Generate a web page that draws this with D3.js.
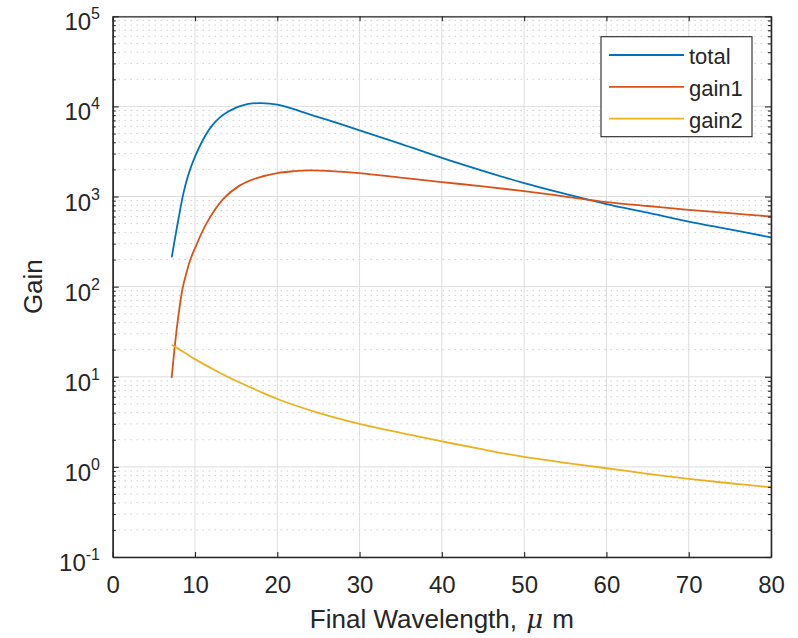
<!DOCTYPE html>
<html>
<head>
<meta charset="utf-8">
<script src="https://cdn.jsdelivr.net/npm/d3@7"></script>
<style>
  body { margin: 0; background: #fff; }
  svg { font-family: "Liberation Sans", Arial, sans-serif; }
</style>
</head>
<body>
<script>
// values
const seriesNames = ['total', 'gain1', 'gain2'];

const totalX = [7.17, 7.5, 8, 8.6, 9.2, 10, 11, 12, 13, 14, 15, 16, 17, 18, 20, 22, 24, 26, 28, 30, 35, 40, 45, 50, 55, 60, 65, 70, 75, 80];
const totalY = [211, 316, 570, 1090, 1750, 2775, 4300, 6000, 7500, 8710, 9700, 10400, 10790, 10890, 10470, 9330, 8130, 7130, 6240, 5430, 3850, 2690, 1930, 1410, 1070, 824, 661, 528, 432, 352];

const gain1X = [7.165, 7.57, 7.97, 8.5, 8.99, 9.39, 9.92, 11.42, 13.44, 15.46, 17.5, 20, 22, 24, 27, 30, 35, 40, 45, 50, 55, 60, 65, 70, 75, 80];
const gain1Y = [9.7, 22.9, 46.4, 96.5, 145, 194, 257, 507, 940, 1330, 1600, 1820, 1910, 1950, 1905, 1817, 1622, 1445, 1297, 1148, 1000, 867, 785, 713, 653, 600];

const gain2X = [7.17, 8, 9, 10, 12, 14, 17, 20, 25, 30, 35, 40, 45, 50, 55, 60, 65, 70, 75, 80];
const gain2Y = [22.7, 20.4, 17.9, 15.7, 12.4, 9.95, 7.45, 5.67, 3.98, 3.0, 2.38, 1.92, 1.56, 1.29, 1.11, 0.966, 0.838, 0.736, 0.658, 0.594];

const xTicks = [0, 10, 20, 30, 40, 50, 60, 70, 80];
const yExponents = [-1, 0, 1, 2, 3, 4, 5];

let width = 798,
    height = 638;

let margin = { top: 16.3, bottom: 81, left: 112.7, right: 27 };

let colors = ['#0072BD', '#D95319', '#EDB120'];

let svg = d3.select('body')
            .append('svg')
            .attr('width', width)
            .attr('height', height)
            .style('background', '#fff');

let xScale = d3.scaleLinear()
               .domain([0, 80])
               .range([margin.left, width - margin.right]);

let yScale = d3.scaleLog()
               .domain([0.1, 1e5])
               .range([height - margin.bottom, margin.top]);

let x0 = xScale.range()[0], x1 = xScale.range()[1];
let y0 = yScale.range()[0], y1 = yScale.range()[1];

// minor y values 2..9 of each decade
let minorY = [];
yExponents.slice(0, -1).forEach(e => {
  for (let k = 2; k <= 9; k++) minorY.push(k * Math.pow(10, e));
});
let majorY = yExponents.map(e => Math.pow(10, e));

// minor grid (dotted)
svg.append('g')
   .selectAll('line')
   .data(minorY)
   .enter()
   .append('line')
   .attr('x1', x0).attr('x2', x1)
   .attr('y1', d => yScale(d)).attr('y2', d => yScale(d))
   .attr('stroke', '#b8b8b8')
   .attr('stroke-width', 1)
   .attr('stroke-dasharray', '1,5');

// major grid
svg.append('g')
   .selectAll('line')
   .data(majorY)
   .enter()
   .append('line')
   .attr('x1', x0).attr('x2', x1)
   .attr('y1', d => yScale(d)).attr('y2', d => yScale(d))
   .attr('stroke', '#dedede')
   .attr('stroke-width', 1);

svg.append('g')
   .selectAll('line')
   .data(xTicks)
   .enter()
   .append('line')
   .attr('x1', d => xScale(d)).attr('x2', d => xScale(d))
   .attr('y1', y0).attr('y2', y1)
   .attr('stroke', '#dedede')
   .attr('stroke-width', 1);

// the lines
svg.append('clipPath')
   .attr('id', 'clip')
   .append('rect')
   .attr('x', x0).attr('y', y1)
   .attr('width', x1 - x0).attr('height', y0 - y1);

let line = d3.line()
             .x(d => xScale(d[0]))
             .y(d => yScale(d[1]))
             .curve(d3.curveCatmullRom.alpha(0.5));

let series = [
  d3.zip(totalX, totalY),
  d3.zip(gain1X, gain1Y),
  d3.zip(gain2X, gain2Y)
];

svg.append('g')
   .attr('clip-path', 'url(#clip)')
   .selectAll('path')
   .data(series)
   .enter()
   .append('path')
   .attr('fill', 'none')
   .attr('stroke', (d, i) => colors[i])
   .attr('stroke-width', 1.8)
   .attr('d', line);

// axes (ticks pointing inward, box on)
const axisColor = '#262626';

function styleAxis(g) {
  g.select('.domain').attr('stroke', axisColor).attr('stroke-width', 1.3);
  g.selectAll('.tick line').attr('stroke', axisColor).attr('stroke-width', 1.1);
}

let xAxis = svg.append('g')
   .attr('transform', `translate(0, ${y0})`)
   .call(d3.axisBottom(xScale).tickValues(xTicks).tickSizeInner(-5).tickSizeOuter(0))
   .call(styleAxis);
xAxis.selectAll('text')
     .attr('y', 36)
     .attr('dy', null)
     .attr('fill', axisColor)
     .style('font-size', '24px')
     .style('font-family', '"Liberation Sans", Arial, sans-serif');

svg.append('g')
   .attr('transform', `translate(0, ${y1})`)
   .call(d3.axisTop(xScale).tickValues(xTicks).tickSizeInner(-5).tickSizeOuter(0).tickFormat(''))
   .call(styleAxis);

svg.append('g')
   .attr('transform', `translate(${x0}, 0)`)
   .call(d3.axisLeft(yScale).tickValues(majorY).tickSizeInner(-6).tickSizeOuter(0).tickFormat(''))
   .call(styleAxis);

svg.append('g')
   .attr('transform', `translate(${x0}, 0)`)
   .call(d3.axisLeft(yScale).tickValues(minorY).tickSizeInner(-3).tickSizeOuter(0).tickFormat(''))
   .call(styleAxis);

svg.append('g')
   .attr('transform', `translate(${x1}, 0)`)
   .call(d3.axisRight(yScale).tickValues(majorY).tickSizeInner(-6).tickSizeOuter(0).tickFormat(''))
   .call(styleAxis);

svg.append('g')
   .attr('transform', `translate(${x1}, 0)`)
   .call(d3.axisRight(yScale).tickValues(minorY).tickSizeInner(-3).tickSizeOuter(0).tickFormat(''))
   .call(styleAxis);

// y tick labels 10^n
let yLab = svg.append('g')
   .selectAll('text')
   .data(yExponents)
   .enter()
   .append('text')
   .attr('x', 100)
   .attr('y', d => yScale(Math.pow(10, d)) + 14)
   .attr('text-anchor', 'end')
   .attr('fill', axisColor)
   .style('font-size', '24px');

yLab.append('tspan').text('10');
yLab.append('tspan')
    .attr('dy', -11)
    .style('font-size', '16px')
    .text(d => d);

// axis labels
let xLabel = svg.append('text')
   .attr('x', (x0 + x1) / 2)
   .attr('y', 628)
   .attr('text-anchor', 'middle')
   .attr('fill', axisColor)
   .style('font-size', '26px');
xLabel.append('tspan').text('Final Wavelength, ');
xLabel.append('tspan')
      .attr('dx', 2)
      .style('font-family', '"DejaVu Serif", "Liberation Serif", serif')
      .style('font-style', 'italic')
      .text('μ');
xLabel.append('tspan').attr('dx', 9).text('m');

svg.append('text')
   .attr('transform', `translate(42, ${(y0 + y1) / 2}) rotate(-90)`)
   .attr('text-anchor', 'middle')
   .attr('fill', axisColor)
   .style('font-size', '26px')
   .text('Gain');

// legend
let legend = svg.append('g')
   .attr('transform', 'translate(601, 36.7)');

legend.append('rect')
   .attr('width', 151)
   .attr('height', 100)
   .attr('fill', '#fff')
   .attr('stroke', axisColor)
   .attr('stroke-width', 1.1);

seriesNames.forEach((name, i) => {
  let g = legend.append('g')
     .attr('transform', `translate(0, ${18.3 + i * 31.8})`);
  g.append('line')
   .attr('x1', 8).attr('x2', 83)
   .attr('stroke', colors[i])
   .attr('stroke-width', 1.8);
  g.append('text')
   .attr('x', 88)
   .attr('y', 9)
   .attr('fill', axisColor)
   .style('font-size', '22px')
   .text(name);
});
</script>
</body>
</html>
